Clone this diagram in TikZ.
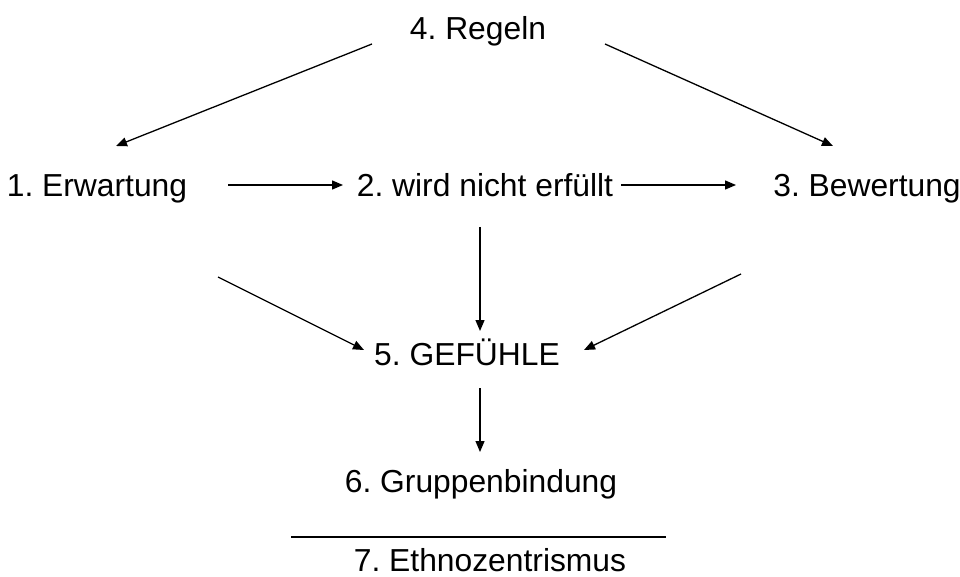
\documentclass[tikz,border=0pt]{standalone}
\usepackage{fontspec}
\setmainfont{Liberation Sans}
\usetikzlibrary{arrows.meta}
\frenchspacing
\begin{document}
\begin{tikzpicture}[x=1pt,y=-1pt,
  lbl/.style={font=\fontsize{31.8}{36}\selectfont, inner sep=0pt, anchor=base},
  conn/.style={line width=1.3pt, -{Triangle[length=11pt,width=9pt]}}]
\useasboundingbox (0,0) rectangle (960,577);
% labels
\node[lbl] (regeln)  at (478,40)  {4. Regeln};
\node[lbl] (erw)     at (97,197)  {1. Erwartung};
\node[lbl] (nicht)   at (485,197) {2. wird nicht erfüllt};
\node[lbl] (bew)     at (867,197) {3. Bewertung};
\node[lbl] (gef)     at (467,365) {5. GEFÜHLE};
\node[lbl] (gruppe)  at (481,492) {6. Gruppenbindung};
\node[lbl] (ethno)   at (490,571) {7. Ethnozentrismus};
% connector ends
\coordinate (r1) at (372,44);  \coordinate (r2) at (116,146);
\coordinate (r3) at (605,44);  \coordinate (r4) at (833,146);
\coordinate (h1) at (228,185); \coordinate (h2) at (343,185);
\coordinate (h3) at (621,185); \coordinate (h4) at (736,185);
\coordinate (v1) at (480,227); \coordinate (v2) at (480,331);
\coordinate (d1) at (218,277); \coordinate (d2) at (364,350);
\coordinate (d3) at (741,274); \coordinate (d4) at (584,350);
\coordinate (v3) at (480,388); \coordinate (v4) at (480,452);
\coordinate (s1) at (291,537); \coordinate (s2) at (666,537);
% arrows
\draw[conn] (r1) -- (r2);
\draw[conn] (r3) -- (r4);
\draw[conn] (h1) -- (h2);
\draw[conn] (h3) -- (h4);
\draw[conn] (v1) -- (v2);
\draw[conn] (d1) -- (d2);
\draw[conn] (d3) -- (d4);
\draw[conn] (v3) -- (v4);
% separating rule
\draw[line width=1.1pt] (s1) -- (s2);
\end{tikzpicture}
\end{document}
